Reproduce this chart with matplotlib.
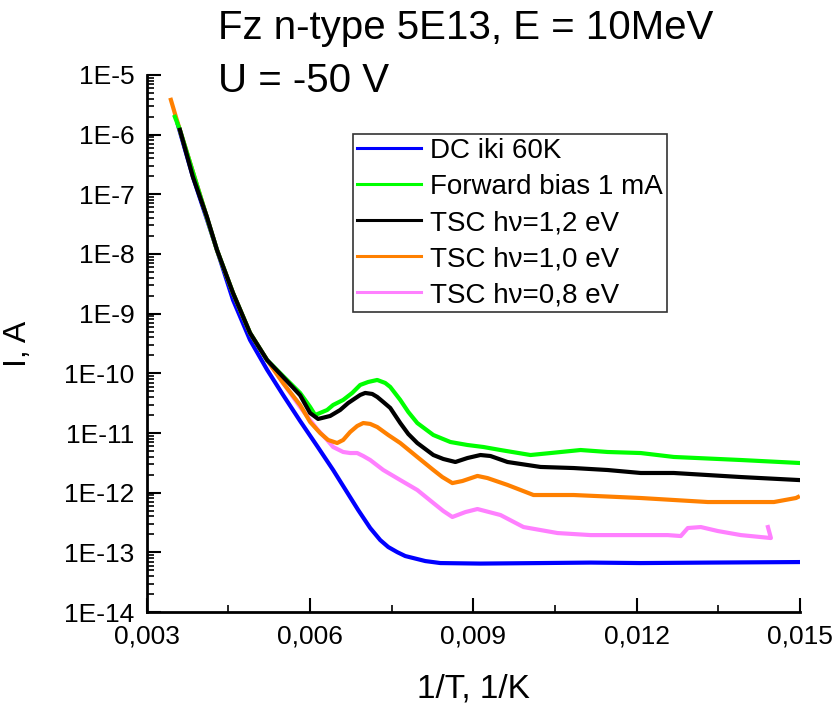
import matplotlib
matplotlib.use('Agg')
import matplotlib.pyplot as plt
from matplotlib.ticker import LogLocator, NullFormatter, MultipleLocator

plt.rcParams['font.family'] = ['Liberation Sans', 'DejaVu Sans']

# DC iki 60K
x_dc = [0.003571, 0.003847, 0.004288, 0.004583, 0.004896, 0.005209, 0.005503, 0.005816,
        0.006129, 0.006423, 0.006883, 0.007104, 0.007288, 0.007436, 0.007601, 0.007748,
        0.007896, 0.008117, 0.008393, 0.009129, 0.010233, 0.011153, 0.012074, 0.013307,
        0.014963]
i_dc = [1.45e-6, 1.95e-7, 1.17e-8, 1.70e-9, 3.62e-10, 1.15e-10, 4.34e-11, 1.59e-11,
        6.05e-12, 2.40e-12, 5.13e-13, 2.56e-13, 1.61e-13, 1.23e-13, 1.01e-13, 8.69e-14,
        8.04e-14, 7.16e-14, 6.63e-14, 6.50e-14, 6.63e-14, 6.75e-14, 6.63e-14, 6.75e-14,
        6.89e-14]

# Forward bias 1 mA
x_fb = [0.003515, 0.003607, 0.004288, 0.004583, 0.004896, 0.005209, 0.005503, 0.005816,
        0.006000, 0.006092, 0.006313, 0.006423, 0.006607, 0.006773, 0.006920, 0.007067,
        0.007233, 0.007380, 0.007472, 0.007656, 0.007804, 0.007969, 0.008264, 0.008577,
        0.008890, 0.009184, 0.009497, 0.010049, 0.010417, 0.010969, 0.011466, 0.012074,
        0.012681, 0.013914, 0.014982]
i_fb = [1.98e-6, 1.20e-6, 1.17e-8, 2.22e-9, 4.74e-10, 1.67e-10, 9.0e-11, 4.69e-11,
        2.73e-11, 2.00e-11, 2.43e-11, 2.95e-11, 3.58e-11, 4.69e-11, 6.38e-11, 7.16e-11,
        7.74e-11, 6.89e-11, 5.91e-11, 3.58e-11, 2.25e-11, 1.47e-11, 9.26e-12, 7.07e-12,
        6.30e-12, 5.83e-12, 5.19e-12, 4.28e-12, 4.62e-12, 5.19e-12, 4.81e-12, 4.62e-12,
        3.97e-12, 3.53e-12, 3.15e-12]

# TSC hv=1,2 eV
x_12 = [0.003607, 0.003847, 0.004104, 0.004288, 0.004583, 0.004896, 0.005209, 0.005503,
        0.005816, 0.006000, 0.006147, 0.006368, 0.006552, 0.006699, 0.006920, 0.007012,
        0.007141, 0.007233, 0.007344, 0.007472, 0.007656, 0.007804, 0.007969, 0.008264,
        0.008448, 0.008669, 0.008890, 0.009129, 0.009313, 0.009626, 0.010233, 0.010840,
        0.011466, 0.012074, 0.012681, 0.013914, 0.014982]
i_12 = [1.20e-6, 1.95e-7, 4.17e-8, 1.17e-8, 2.22e-9, 4.74e-10, 1.67e-10, 8.69e-11,
        4.3e-11, 2.16e-11, 1.72e-11, 1.93e-11, 2.43e-11, 3.18e-11, 4.34e-11, 4.69e-11,
        4.51e-11, 4.02e-11, 3.31e-11, 2.63e-11, 1.47e-11, 9.62e-12, 6.80e-12, 4.28e-12,
        3.67e-12, 3.27e-12, 3.81e-12, 4.28e-12, 4.12e-12, 3.27e-12, 2.70e-12, 2.59e-12,
        2.40e-12, 2.14e-12, 2.14e-12, 1.83e-12, 1.63e-12]

# TSC hv=1,0 eV
x_10 = [0.003442, 0.003534, 0.003607, 0.004288, 0.004583, 0.004896, 0.005209, 0.005503,
        0.005816, 0.006000, 0.006184, 0.006331, 0.006497, 0.006607, 0.006736, 0.006865,
        0.006976, 0.007104, 0.007233, 0.007436, 0.007656, 0.007969, 0.008264, 0.008429,
        0.008613, 0.008798, 0.009074, 0.009258, 0.009626, 0.010104, 0.010840, 0.012074,
        0.013307, 0.014521, 0.014926, 0.014963]
i_10 = [3.81e-6, 1.98e-6, 1.20e-6, 1.17e-8, 2.22e-9, 4.74e-10, 1.67e-10, 6.89e-11,
        2.95e-11, 1.53e-11, 1.00e-11, 7.64e-12, 6.80e-12, 7.64e-12, 1.04e-11, 1.31e-11,
        1.47e-11, 1.42e-11, 1.26e-11, 9.26e-12, 6.80e-12, 3.97e-12, 2.40e-12, 1.83e-12,
        1.45e-12, 1.57e-12, 1.91e-12, 1.76e-12, 1.35e-12, 9.15e-13, 9.15e-13, 8.15e-13,
        6.98e-13, 6.98e-13, 8.15e-13, 8.47e-13]

# TSC hv=0,8 eV
x_08 = [0.003607, 0.004288, 0.004583, 0.004896, 0.005209, 0.005503, 0.005816, 0.006129,
        0.006313, 0.006423, 0.006607, 0.006736, 0.006865, 0.006976, 0.007104, 0.007344,
        0.007656, 0.007969, 0.008264, 0.008448, 0.008613, 0.008853, 0.009074, 0.009497,
        0.009920, 0.010546, 0.011153, 0.012074, 0.012571, 0.012810, 0.012939, 0.013178,
        0.013491, 0.013914, 0.014466, 0.014411]
i_08 = [1.20e-6, 1.17e-8, 2.22e-9, 4.74e-10, 1.67e-10, 6.89e-11, 2.73e-11, 1.16e-11,
        7.64e-12, 5.83e-12, 4.81e-12, 4.62e-12, 4.62e-12, 4.12e-12, 3.53e-12, 2.40e-12,
        1.63e-12, 1.11e-12, 6.72e-13, 4.93e-13, 3.92e-13, 4.74e-13, 5.33e-13, 4.23e-13,
        2.66e-13, 2.11e-13, 1.95e-13, 1.95e-13, 1.95e-13, 1.88e-13, 2.56e-13, 2.66e-13,
        2.28e-13, 1.95e-13, 1.74e-13, 2.66e-13]

x_ticks = [0.003, 0.006, 0.009, 0.012, 0.015]
x_labels = ['0,003', '0,006', '0,009', '0,012', '0,015']
y_ticks = [10.0 ** -k for k in range(5, 15)]
y_labels = ['1E-%d' % k for k in range(5, 15)]

fig = plt.figure(figsize=(8.39, 7.06), dpi=100)
ax = fig.add_axes([0.175, 0.133, 0.7785, 0.761])

style = dict(lw=3, solid_joinstyle='round')
ax.plot(x_dc, i_dc, color='#0000ff', zorder=2, label='DC iki 60K', **style)
ax.plot(x_fb, i_fb, color='#00ff00', zorder=5, label='Forward bias 1 mA', **style)
ax.plot(x_12, i_12, color='black', zorder=6, label='TSC h\u03bd=1,2 eV', **style)
ax.plot(x_10, i_10, color='#ff8000', zorder=4, label='TSC h\u03bd=1,0 eV', **style)
ax.plot(x_08, i_08, color='#ff80ff', zorder=3, label='TSC h\u03bd=0,8 eV', **style)

ax.set_yscale('log')
ax.set_xlim(0.003, 0.015)
ax.set_ylim(1e-14, 1e-5)

ax.set_xticks(x_ticks)
ax.set_xticklabels(x_labels)
ax.xaxis.set_minor_locator(MultipleLocator(0.0015))
ax.set_yticks(y_ticks)
ax.set_yticklabels(y_labels)
ax.yaxis.set_minor_locator(LogLocator(base=10, subs=range(2, 10), numticks=30))
ax.yaxis.set_minor_formatter(NullFormatter())

ax.tick_params(which='major', direction='in', length=10, width=1.5, labelsize=19)
ax.tick_params(which='minor', direction='in', length=5, width=1.2)
ax.tick_params(axis='x', which='major', pad=9)
ax.tick_params(axis='y', which='major', pad=9)

for s in ['top', 'right']:
    ax.spines[s].set_visible(False)
for s in ['left', 'bottom']:
    ax.spines[s].set_linewidth(2)

ax.set_xlabel('1/T, 1/K', fontsize=24, labelpad=18)
ax.set_ylabel('I, A', fontsize=23, labelpad=22)

leg = ax.legend(loc='upper left', bbox_to_anchor=(0.315, 0.89), borderaxespad=0,
                fontsize=20, handlelength=2.3, handletextpad=0.35, labelspacing=0.36,
                borderpad=0.15, fancybox=False, framealpha=1, edgecolor='#333333')
leg.get_frame().set_linewidth(1.2)
for h in leg.get_lines():
    h.set_linewidth(2.2)

fig.text(0.26, 1 - 39 / 706, 'Fz n-type 5E13, E = 10MeV', fontsize=29, va='baseline')
fig.text(0.26, 1 - 92 / 706, 'U = -50 V', fontsize=29, va='baseline')

plt.savefig('out.png', dpi=100)
